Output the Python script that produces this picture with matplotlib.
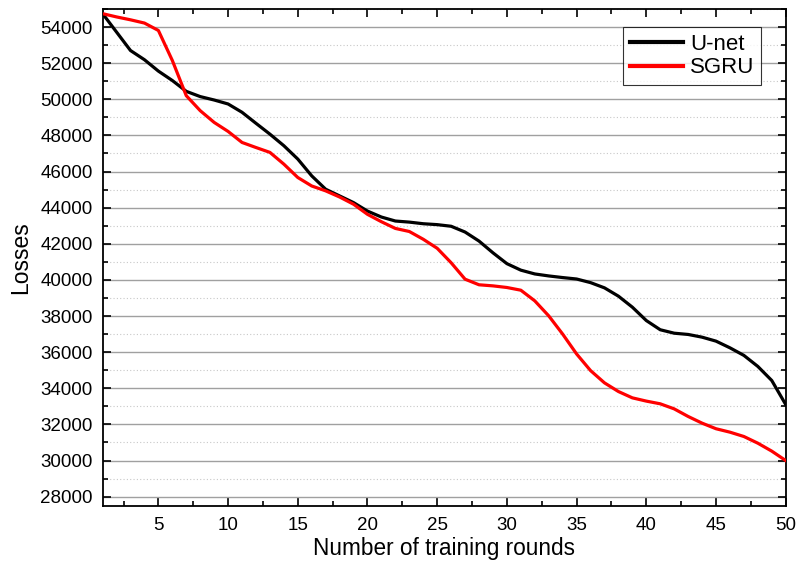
import matplotlib
matplotlib.use("Agg")
import matplotlib.pyplot as plt
from matplotlib.ticker import MultipleLocator

rounds = list(range(1, 51))
unet = [54740, 53720, 52700, 52190, 51560, 51040, 50440, 50150, 49960, 49740,
        49280, 48670, 48070, 47430, 46690, 45760, 45020, 44650, 44280, 43810,
        43480, 43260, 43200, 43110, 43060, 42970, 42650, 42150, 41500, 40900,
        40540, 40330, 40220, 40130, 40050, 39850, 39560, 39100, 38490, 37750,
        37240, 37050, 36980, 36830, 36610, 36240, 35820, 35210, 34430, 33100]
sgru = [54740, 54560, 54400, 54220, 53810, 52150, 50200, 49370, 48720, 48220,
        47610, 47330, 47060, 46410, 45670, 45200, 44930, 44590, 44190, 43630,
        43220, 42850, 42680, 42250, 41750, 40950, 40040, 39730, 39670, 39580,
        39430, 38840, 38010, 37000, 35900, 34980, 34300, 33820, 33470, 33290,
        33140, 32860, 32440, 32070, 31760, 31570, 31330, 30960, 30520, 30000]

plt.rcParams['font.family'] = ['Liberation Sans', 'DejaVu Sans']

fig = plt.figure(figsize=(7.98, 5.61), dpi=100)
ax = fig.add_axes([0.1286, 0.0986, 0.856, 0.8854])

ax.plot(rounds, unet, color='black', lw=2.3, label='U-net', zorder=3,
        solid_joinstyle='round')
ax.plot(rounds, sgru, color='#ff0000', lw=2.3, label='SGRU', zorder=3,
        solid_joinstyle='round')

ax.set_xlim(1, 50)
ax.set_ylim(27500, 55000)
ax.xaxis.set_major_locator(MultipleLocator(5))
ax.xaxis.set_minor_locator(MultipleLocator(2.5))
ax.yaxis.set_major_locator(MultipleLocator(2000))
ax.yaxis.set_minor_locator(MultipleLocator(1000))
ax.set_yticks(range(28000, 55000, 2000))

ax.grid(True, which='major', axis='y', color='#a0a0a0', lw=1.0, ls='-', zorder=0)
ax.grid(True, which='minor', axis='y', color='#c8c8c8', lw=0.8, ls=(0, (1, 2)), zorder=0)

ax.tick_params(which='both', direction='in', top=True, right=True,
               labelsize=13.5, width=1.2)
ax.tick_params(which='major', length=6)
ax.tick_params(which='minor', length=3.5)
ax.tick_params(axis='x', which='both', pad=8.5)
ax.tick_params(axis='y', which='both', pad=7)
for s in ax.spines.values():
    s.set_linewidth(1.3)

ax.set_xlabel('Number of training rounds', fontsize=16.3, labelpad=2)
ax.set_ylabel('Losses', fontsize=16.5, labelpad=6)

leg = ax.legend(loc='upper right', bbox_to_anchor=(0.9638, 0.9638), borderaxespad=0,
                fontsize=16, frameon=True, fancybox=False, edgecolor='black',
                handlelength=2.4, handletextpad=0.3, labelspacing=0.12,
                borderpad=0.3)
leg.get_frame().set_linewidth(0.8)
for h in leg.get_lines():
    h.set_linewidth(3)

fig.savefig('out.png', dpi=100)
